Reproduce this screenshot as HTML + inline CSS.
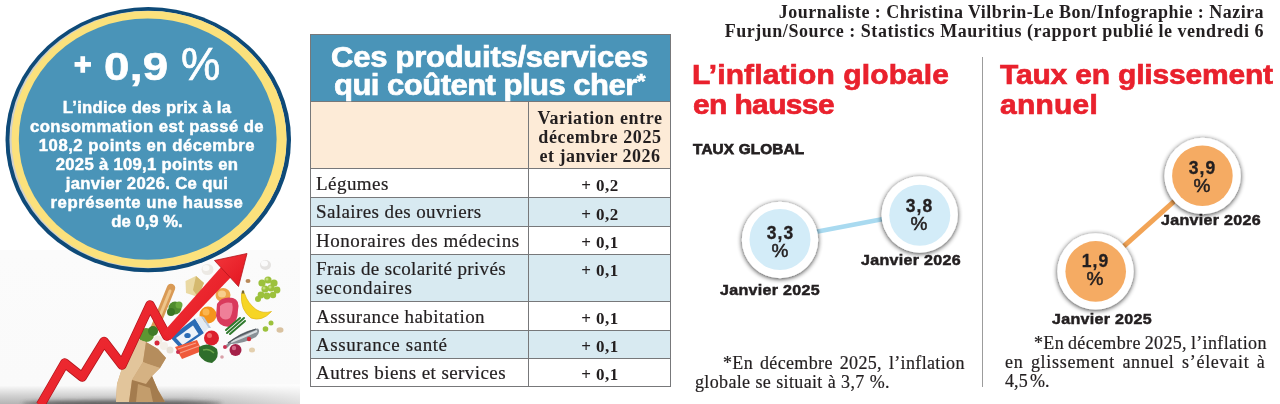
<!DOCTYPE html>
<html lang="fr">
<head>
<meta charset="utf-8">
<title>Inflation</title>
<style>
html,body{margin:0;padding:0;}
body{width:1280px;height:404px;position:relative;overflow:hidden;background:#fff;font-family:"Liberation Sans",sans-serif;color:#231f20;}
.abs{position:absolute;white-space:nowrap;}
.sans{font-family:"Liberation Sans",sans-serif;font-weight:bold;}
.serif{font-family:"Liberation Serif",serif;}
/* left bubble */
#bubble{position:absolute;left:0;top:0;width:310px;height:404px;}
.bt{position:absolute;left:0;width:294px;text-align:center;color:#fff;font-weight:bold;font-size:15.6px;line-height:19px;white-space:nowrap;-webkit-text-stroke:0.45px #fff;}
/* table */
#tbl{position:absolute;left:310px;top:34px;width:361px;height:353px;}
.row{position:absolute;left:0;width:361px;box-sizing:border-box;}
.cellL{position:absolute;left:6px;font-family:"Liberation Serif",serif;font-size:19px;white-space:nowrap;color:#231f20;-webkit-text-stroke:0.2px #231f20;}
.cellR{position:absolute;left:219px;width:142px;text-align:center;font-family:"Liberation Serif",serif;font-weight:bold;font-size:17px;white-space:nowrap;color:#231f20;}
.hl{position:absolute;background:#77787a;}
.pv{letter-spacing:0.5px;}
.cv{text-align:center;font-size:17.5px;line-height:18px;letter-spacing:1.2px;text-indent:1.2px;-webkit-text-stroke:0.3px #231f20;}
.cp{text-align:center;font-size:19px;line-height:18px;font-weight:normal;-webkit-text-stroke:0.5px #231f20;}
.jl{font-size:15px;line-height:18px;}
.fn{font-size:18px;line-height:19px;letter-spacing:0.35px;-webkit-text-stroke:0.2px #231f20;}
.red{color:#e9212d;-webkit-text-stroke:0.7px #e9212d;}
#t1,#t2{-webkit-text-stroke:0.7px #fff;}
#tg{-webkit-text-stroke:0.75px #231f20;}
.jl{-webkit-text-stroke:0.5px #231f20;}
</style>
<style id="tune">
#t1{transform:scaleX(1.070);transform-origin:0 50%}
#t2{transform:scaleX(1.070);transform-origin:0 50%}
#h1a{transform:scaleX(1.070);transform-origin:0 50%}
#h1b{transform:scaleX(1.070);transform-origin:0 50%}
#h2a{transform:scaleX(1.070);transform-origin:0 50%}
#h2b{transform:scaleX(1.070);transform-origin:0 50%}
#j1{transform:scaleX(1.070);transform-origin:0 50%}
#j2{transform:scaleX(1.070);transform-origin:0 50%}
#j3{transform:scaleX(1.070);transform-origin:0 50%}
#j4{transform:scaleX(1.070);transform-origin:0 50%}
.bt{transform:scaleX(1.070);transform-origin:50% 50%}
#b1{letter-spacing:0.22px}
#b2{letter-spacing:0.39px}
#b3{letter-spacing:0.48px}
#b4{letter-spacing:0.27px}
#b5{letter-spacing:0.31px}
#b6{letter-spacing:0.49px}
#b7{letter-spacing:0.01px}
#t1{letter-spacing:-0.25px}
#t2{letter-spacing:-0.49px}
#c1{letter-spacing:0.46px}
#c2{letter-spacing:0.53px}
#h1a{letter-spacing:0.12px}
#h1b{letter-spacing:-0.58px}
#tg{letter-spacing:0.18px}
#h2a{letter-spacing:-0.15px}
#h2b{letter-spacing:0.23px}
#j1{letter-spacing:0.28px}
#j2{letter-spacing:0.28px}
#j3{letter-spacing:0.28px}
#j4{letter-spacing:0.28px}
#r1{letter-spacing:0.45px}
#r2{letter-spacing:0.40px}
#r3{letter-spacing:0.55px}
#r7{letter-spacing:0.36px}
#r8{letter-spacing:0.73px}
#r4{letter-spacing:0.46px}
#r5{letter-spacing:0.58px}
#r6{letter-spacing:0.42px}
#v1{letter-spacing:0.57px}
#v2{letter-spacing:0.64px}
#v3{letter-spacing:0.49px}
</style></head>
<body>

<!-- photo + bubble -->
<svg id="bubble" viewBox="0 0 310 404">
  <defs>
    <linearGradient id="floor" x1="0" y1="0" x2="0" y2="1">
      <stop offset="0" stop-color="#fbfbfb"/>
      <stop offset="0.88" stop-color="#fafafa"/>
      <stop offset="0.95" stop-color="#cfcfcf"/>
      <stop offset="1" stop-color="#b4b4b4"/>
    </linearGradient>
    <linearGradient id="fr" x1="0" y1="0" x2="1" y2="0"><stop offset="0" stop-color="#fff" stop-opacity="0"/><stop offset="1" stop-color="#fff" stop-opacity="0.55"/></linearGradient>
    <linearGradient id="redg" x1="0" y1="0" x2="1" y2="1">
      <stop offset="0" stop-color="#f2363b"/>
      <stop offset="1" stop-color="#e3141f"/>
    </linearGradient>
    <filter id="blur3" x="-20%" y="-200%" width="140%" height="500%"><feGaussianBlur stdDeviation="2"/></filter>
  </defs>
  <rect x="0" y="250" width="300" height="154" fill="url(#floor)"/>
  <g id="food">
    <rect x="190" y="384" width="110" height="20" fill="url(#fr)"/>
    <!-- floor shadow -->
    <ellipse cx="122" cy="404" rx="100" ry="3.500" fill="#3c3c3c" opacity="0.75" filter="url(#blur3)"/>
    <!-- baguette -->
    <line x1="171" y1="288" x2="154" y2="330" stroke="#d99a55" stroke-width="8.500" stroke-linecap="round"/>
    <line x1="170" y1="291" x2="157" y2="323" stroke="#efc58a" stroke-width="3" stroke-linecap="round"/>
    <!-- greens at bag top -->
    <ellipse cx="146" cy="335" rx="8" ry="7" fill="#5d9632"/>
    <ellipse cx="153" cy="331" rx="5" ry="5" fill="#3f7a28"/>
    <circle cx="158" cy="340" r="4.500" fill="#f1ece4"/>
    <circle cx="164" cy="346" r="4" fill="#f3efe8"/>
    <circle cx="170" cy="350" r="3.5" fill="#e7e0d6"/>
    <circle cx="157" cy="343" r="2.5" fill="#d7263a"/>
    <!-- bag -->
    <path d="M116 402 L117 384 L124 362 L134 338 L146 342 L158 349 L166 358 L160 368 L152 376 L158 390 L165 402 Z" fill="#cda679"/>
    <path d="M134 338 L146 342 L143 362 L132 380 L129 402 L116 402 L117 384 L124 362 Z" fill="#e2c59b"/>
    <path d="M146 342 L158 349 L166 358 L160 368 L148 364 L143 362 Z" fill="#b58d5d"/>
    <path d="M143 362 L148 364 L160 368 L152 376 L146 384 L132 380 Z" fill="#d5b283"/>
    <path d="M132 380 L146 384 L152 376 L158 390 L165 402 L129 402 Z" fill="#a47c4e"/>
    <path d="M138 384 L150 388 L153 402 L136 402 Z" fill="#c39d6c"/>
    <!-- cheese -->
    <path d="M185.500 281 L196 276 L204 283 L198 297 L186 293 Z" fill="#ead9a3"/>
    <path d="M196 276 L204 283 L198 297 L193 290 Z" fill="#d4b96e"/>
    <!-- garlic -->
    <ellipse cx="207.500" cy="269.500" rx="6" ry="5.500" fill="#ece9e4"/>
    <ellipse cx="206" cy="268" rx="3.500" ry="3" fill="#fbfaf8"/>
    <!-- broccoli -->
    <circle cx="175" cy="308" r="6.500" fill="#4f8b2d"/>
    <circle cx="171" cy="312" r="4" fill="#3b7424"/>
    <circle cx="179" cy="305" r="3.500" fill="#6aa83c"/>
    <!-- croissant -->
    <ellipse cx="223" cy="295" rx="7.500" ry="7" fill="#eda64b"/>
    <ellipse cx="222" cy="294" rx="4" ry="3.500" fill="#f7cf8e"/>
    <!-- orange -->
    <circle cx="208" cy="315" r="8.500" fill="#f4951c"/>
    <circle cx="206" cy="312" r="3.500" fill="#fbb54e"/>
    <!-- meat -->
    <path d="M217 304 Q222 296 233 298 Q240 300 238 310 Q238 324 229 327 Q218 327 216 316 Z" fill="#d93a5c"/>
    <path d="M220 306 Q225 301 232 303 Q234 310 230 318 Q224 322 220 316 Z" fill="#ef7f98"/>
    <!-- banana -->
    <path d="M241.500 293.500 Q240 310 251 318 Q262 322 271.500 311.500 Q263 314 256 309.500 Q247.500 303 244.500 293.500 Z" fill="#f6d524" stroke="#e0b510" stroke-width="0.700"/>
    <path d="M241.500 293.500 L244.500 293.500 L244 290.500 L242 290.500 Z" fill="#7a6a2a"/>
    <!-- grapes -->
    <g fill="#9cc13c">
      <circle cx="262" cy="283" r="3.600"/><circle cx="268" cy="280" r="3.600"/><circle cx="274" cy="283" r="3.600"/>
      <circle cx="265" cy="289" r="3.600"/><circle cx="271" cy="288" r="3.600"/><circle cx="277" cy="290" r="3.400"/>
      <circle cx="261" cy="295" r="3.400"/><circle cx="267" cy="296" r="3.400"/><circle cx="258" cy="299" r="3"/>
      <circle cx="273" cy="295" r="3.200"/>
    </g>
    <g fill="#c3dc7a"><circle cx="267" cy="279" r="1.500"/><circle cx="264" cy="288" r="1.500"/><circle cx="270" cy="287" r="1.500"/></g>
    <!-- egg -->
    <ellipse cx="265.500" cy="265" rx="5.500" ry="5" fill="#e4e2e0"/>
    <ellipse cx="264.500" cy="263.500" rx="3.500" ry="3" fill="#fafafa"/>
    <!-- milk carton -->
    <path d="M170 337 L195 318.500 L204 333 L181 349 Z" fill="#2b6cb5"/>
    <path d="M176 338 L193 325.500 L198.500 334 L182.500 345 Z" fill="#eef3f9"/>
    <path d="M195 318.500 L201 316 L208.500 328 L204 333 Z" fill="#e3ebf4"/>
    <path d="M201 316 L204 317 L211 328 L208.500 328 Z" fill="#b9c9dc"/>
    <ellipse cx="187.500" cy="335.500" rx="3.200" ry="2.600" fill="#2b6cb5"/>
    <!-- salmon -->
    <path d="M175 347 L197 340 L202 351 L182 359 Z" fill="#ef5a3a"/>
    <path d="M178 349 L196 343" stroke="#f9a08a" stroke-width="1.200"/>
    <path d="M180 353 L199 346" stroke="#f9a08a" stroke-width="1.200"/>
    <!-- tomato -->
    <circle cx="211.500" cy="338" r="7.500" fill="#dc1f2b"/>
    <circle cx="209.500" cy="335.500" r="2.500" fill="#f06a6a"/>
    <!-- leafy -->
    <path d="M199 347 Q208 341 217 349 Q220 358 212 363 Q203 362 199 355 Z" fill="#2f6e2b"/>
    <path d="M203 350 Q209 348 214 353" stroke="#6aa54a" stroke-width="1.500" fill="none"/>
    <!-- green beans -->
    <path d="M227 333 L244 318 M230 334 L245 321 M226 330 L240 318" stroke="#2f7a2d" stroke-width="2" stroke-linecap="round"/>
    <!-- fish -->
    <path d="M226 345 Q240 331 258 328.500 Q261 332 256 337 Q243 344 231 344 L227 348 Z" fill="#8a9197"/>
    <path d="M231 342 Q244 337 257 331" stroke="#d9dde0" stroke-width="2" fill="none"/>
    <path d="M228 343 Q240 334 256 329" stroke="#4f565d" stroke-width="1.200" fill="none"/>
    <!-- red onion -->
    <circle cx="235.500" cy="350" r="6" fill="#a42048"/>
    <circle cx="234" cy="348" r="2.200" fill="#d56a8a"/>
    <!-- bits -->
    <circle cx="249" cy="339" r="2.200" fill="#d42a3a"/>
    <circle cx="225" cy="347" r="2" fill="#c93050"/>
    <circle cx="265.500" cy="329" r="2.800" fill="#9cc13c"/>
    <circle cx="271" cy="323" r="2.500" fill="#9cc13c"/>
    <ellipse cx="280" cy="330" rx="3.500" ry="2.800" fill="#d9c2a0"/>
    <ellipse cx="248" cy="281" rx="2.500" ry="2" fill="#b98a5a"/>
    <ellipse cx="252" cy="350" rx="3" ry="2.500" fill="#e3cfae"/>
    <circle cx="222" cy="357" r="1.800" fill="#d9a0a8"/>
    <circle cx="178" cy="352" r="2" fill="#c93050"/>
    <!-- red arrow -->
    <path d="M40.500 405 L64.700 363 L82.200 377 L104 341.500 L122 365 L150 305 L166.800 336 L228 270" fill="none" stroke="#b3151c" stroke-width="9.500" stroke-linejoin="round"/>
    <path d="M40.500 405 L64.700 363 L82.200 377 L104 341.500 L122 365 L150 305 L166.800 336 L228 270" fill="none" stroke="url(#redg)" stroke-width="8" stroke-linejoin="round"/>
    <path d="M162.500 333 L223.800 264 L234.500 273.500 L170.500 340 Z" fill="url(#redg)"/>
    <path d="M247 253.500 L214.500 260.500 L238.500 286.500 Z" fill="url(#redg)" stroke="#b3151c" stroke-width="0.800"/>
  </g>
  <ellipse cx="148.25" cy="139.7" rx="142.75" ry="132.6" fill="#0e4a78"/>
  <ellipse cx="148" cy="139.5" rx="138.6" ry="128.7" fill="#cfd0cc"/>
  <ellipse cx="149" cy="139.45" rx="137.5" ry="128.35" fill="#fbe17c"/>
  <ellipse cx="147.7" cy="139.1" rx="128.9" ry="120.6" fill="#4a94b8"/>
</svg>

<div class="abs sans" id="plus" style="left:74px;top:46.5px;font-size:30px;line-height:34px;color:#fff;-webkit-text-stroke:1.3px #fff;">+</div>
<div class="abs sans" id="big" style="left:104px;top:45px;font-size:38px;line-height:44px;color:#fff;letter-spacing:0.3px;-webkit-text-stroke:0.6px #fff;transform:scaleX(1.2);transform-origin:0 50%;">0,9</div>
<div class="abs" id="pct" style="left:181px;top:39px;font-size:47px;line-height:50px;color:#fff;font-weight:normal;-webkit-text-stroke:0.7px #fff;transform:scaleX(0.94);transform-origin:0 0;">%</div>
<div class="bt" style="top:98px;"><span id="b1">L’indice des prix à la</span></div>
<div class="bt" style="top:117px;"><span id="b2">consommation est passé de</span></div>
<div class="bt" style="top:136px;"><span id="b3">108,2 points en décembre</span></div>
<div class="bt" style="top:155px;"><span id="b4">2025 à 109,1 points en</span></div>
<div class="bt" style="top:174px;"><span id="b5">janvier 2026. Ce qui</span></div>
<div class="bt" style="top:193px;"><span id="b6">représente une hausse</span></div>
<div class="bt" style="top:212px;"><span id="b7">de 0,9 %.</span></div>

<!-- table -->
<div id="tbl">
  <div class="row" style="top:0;height:67px;background:#4a94b8;"></div>
  <div class="row" style="top:67px;height:67px;background:#fdebd7;"></div>
  <div class="row" style="top:134px;height:29px;background:#fff;"></div>
  <div class="row" style="top:163px;height:29px;background:#d8eaf1;"></div>
  <div class="row" style="top:192px;height:28px;background:#fff;"></div>
  <div class="row" style="top:220px;height:47px;background:#d8eaf1;"></div>
  <div class="row" style="top:267px;height:29px;background:#fff;"></div>
  <div class="row" style="top:296px;height:28px;background:#d8eaf1;"></div>
  <div class="row" style="top:324px;height:28px;background:#fff;"></div>
  <!-- grid lines -->
  <div class="hl" style="left:0;top:0;width:1px;height:353px;"></div>
  <div class="hl" style="left:360px;top:0;width:1px;height:353px;"></div>
  <div class="hl" style="left:218px;top:67px;width:1px;height:286px;"></div>
  <div class="hl" style="left:0;top:0;width:361px;height:1px;"></div>
  <div class="hl" style="left:0;top:67px;width:361px;height:1px;"></div>
  <div class="hl" style="left:0;top:134px;width:361px;height:1px;"></div>
  <div class="hl" style="left:0;top:163px;width:361px;height:1px;"></div>
  <div class="hl" style="left:0;top:192px;width:361px;height:1px;"></div>
  <div class="hl" style="left:0;top:220px;width:361px;height:1px;"></div>
  <div class="hl" style="left:0;top:267px;width:361px;height:1px;"></div>
  <div class="hl" style="left:0;top:296px;width:361px;height:1px;"></div>
  <div class="hl" style="left:0;top:324px;width:361px;height:1px;"></div>
  <div class="hl" style="left:0;top:352px;width:361px;height:1px;"></div>

  <div class="abs sans" id="t1" style="left:21px;top:8px;font-size:29px;line-height:30px;color:#fff;">Ces produits/services</div>
  <div class="abs sans" id="t2" style="left:24px;top:36px;font-size:29px;line-height:30px;color:#fff;">qui coûtent plus cher<span style="font-size:21px;position:relative;top:-7px;letter-spacing:0;line-height:0;">*</span></div>

  <div class="cellR" style="top:74.5px;line-height:19.4px;font-size:18px;"><span id="v1">Variation entre</span><br><span id="v2">décembre 2025</span><br><span id="v3">et janvier 2026</span></div>

  <div class="cellL" style="top:139px;"><span id="r1">Légumes</span></div>
  <div class="cellL" style="top:167px;"><span id="r2">Salaires des ouvriers</span></div>
  <div class="cellL" style="top:196px;"><span id="r3">Honoraires des médecins</span></div>
  <div class="cellL" style="top:225.3px;line-height:19px;"><span id="r7">Frais de scolarité privés</span><br><span id="r8">secondaires</span></div>
  <div class="cellL" style="top:271.5px;"><span id="r4">Assurance habitation</span></div>
  <div class="cellL" style="top:299.7px;"><span id="r5">Assurance santé</span></div>
  <div class="cellL" style="top:328px;"><span id="r6">Autres biens et services</span></div>

  <div class="cellR pv" style="top:142px;">+ 0,2</div>
  <div class="cellR pv" style="top:171px;">+ 0,2</div>
  <div class="cellR pv" style="top:199.3px;">+ 0,1</div>
  <div class="cellR pv" style="top:226.6px;">+ 0,1</div>
  <div class="cellR pv" style="top:274.6px;">+ 0,1</div>
  <div class="cellR pv" style="top:303px;">+ 0,1</div>
  <div class="cellR pv" style="top:331px;">+ 0,1</div>
</div>

<!-- credits -->
<div class="abs serif" id="c1" style="right:16px;top:3px;font-size:18px;line-height:19px;font-weight:bold;">Journaliste : Christina Vilbrin-Le Bon/Infographie : Nazira</div>
<div class="abs serif" id="c2" style="right:16px;top:22px;font-size:18px;line-height:19px;font-weight:bold;">Furjun/Source : Statistics Mauritius (rapport publié le vendredi 6</div>

<!-- headline 1 -->
<div class="abs sans red" id="h1a" style="left:691.5px;top:59px;font-size:28px;line-height:32px;">L’inflation globale</div>
<div class="abs sans red" id="h1b" style="left:692.5px;top:89px;font-size:28px;line-height:32px;">en hausse</div>
<div class="abs sans" id="tg" style="left:693px;top:140px;font-size:15.3px;line-height:18px;">TAUX GLOBAL</div>

<!-- headline 2 -->
<div class="abs sans red" id="h2a" style="left:1000px;top:59px;font-size:28px;line-height:32px;">Taux en glissement</div>
<div class="abs sans red" id="h2b" style="left:1000px;top:89px;font-size:28px;line-height:32px;">annuel</div>

<!-- divider -->
<div class="abs" style="left:982px;top:57px;width:1.3px;height:330px;background:#9c9c9c;"></div>

<!-- charts -->
<svg class="abs" style="left:680px;top:120px;" width="600" height="284" viewBox="680 120 600 284">
  <defs>
    <filter id="sh" x="-30%" y="-30%" width="160%" height="160%">
      <feGaussianBlur in="SourceAlpha" stdDeviation="2.4"/>
      <feOffset dx="0" dy="0.5"/>
      <feComponentTransfer><feFuncA type="linear" slope="0.8"/></feComponentTransfer>
      <feMerge><feMergeNode/><feMergeNode in="SourceGraphic"/></feMerge>
    </filter>
  </defs>
  <line x1="781" y1="238.5" x2="920" y2="212" stroke="#a9daf0" stroke-width="4.5"/>
  <line x1="1095.5" y1="271.5" x2="1202.5" y2="176" stroke="#f2a456" stroke-width="5"/>
  <circle cx="780" cy="240" r="38.2" fill="#fff" filter="url(#sh)"/>
  <circle cx="780" cy="239.5" r="30.5" fill="#d3ecf8"/>
  <circle cx="919.7" cy="214.5" r="38.2" fill="#fff" filter="url(#sh)"/>
  <circle cx="919.8" cy="215.3" r="30.5" fill="#d3ecf8"/>
  <circle cx="1095.5" cy="271.4" r="38.2" fill="#fff" filter="url(#sh)"/>
  <circle cx="1095.7" cy="271.4" r="30.3" fill="#f5ab63"/>
  <circle cx="1202.6" cy="176" r="38.2" fill="#fff" filter="url(#sh)"/>
  <circle cx="1202.4" cy="175.7" r="30.3" fill="#f5ab63"/>
</svg>

<div class="abs sans cv" style="left:750px;width:60px;top:224px;">3,3</div>
<div class="abs sans cp" style="left:750px;width:60px;top:242px;">%</div>
<div class="abs sans cv" style="left:889px;width:60px;top:197px;">3,8</div>
<div class="abs sans cp" style="left:889px;width:60px;top:215px;">%</div>
<div class="abs sans cv" style="left:1065px;width:60px;top:252px;">1,9</div>
<div class="abs sans cp" style="left:1065px;width:60px;top:270px;">%</div>
<div class="abs sans cv" style="left:1172px;width:60px;top:159px;">3,9</div>
<div class="abs sans cp" style="left:1172px;width:60px;top:177px;">%</div>

<div class="abs sans jl" id="j1" style="left:720px;top:281px;">Janvier 2025</div>
<div class="abs sans jl" id="j2" style="left:861px;top:251px;">Janvier 2026</div>
<div class="abs sans jl" id="j3" style="left:1052px;top:310px;">Janvier 2025</div>
<div class="abs sans jl" id="j4" style="left:1161px;top:211px;">Janvier 2026</div>

<!-- footnotes -->
<div class="abs serif fn" id="f1a" style="word-spacing:2.1px;left:723px;top:354px;">*En décembre 2025, l’inflation</div>
<div class="abs serif fn" id="f1b" style="word-spacing:0.2px;left:695px;top:373px;">globale se situait à 3,7 %.</div>
<div class="abs serif fn" id="f2a" style="word-spacing:-0.9px;left:1034px;top:334px;">*En décembre 2025, l’inflation</div>
<div class="abs serif fn" id="f2b" style="letter-spacing:0.7px;word-spacing:2.3px;left:1005px;top:353px;">en glissement annuel s’élevait à</div>
<div class="abs serif fn" id="f2c" style="letter-spacing:0.1px;word-spacing:-2.4px;left:1005px;top:372px;">4,5 %.</div>

</body>
</html>
